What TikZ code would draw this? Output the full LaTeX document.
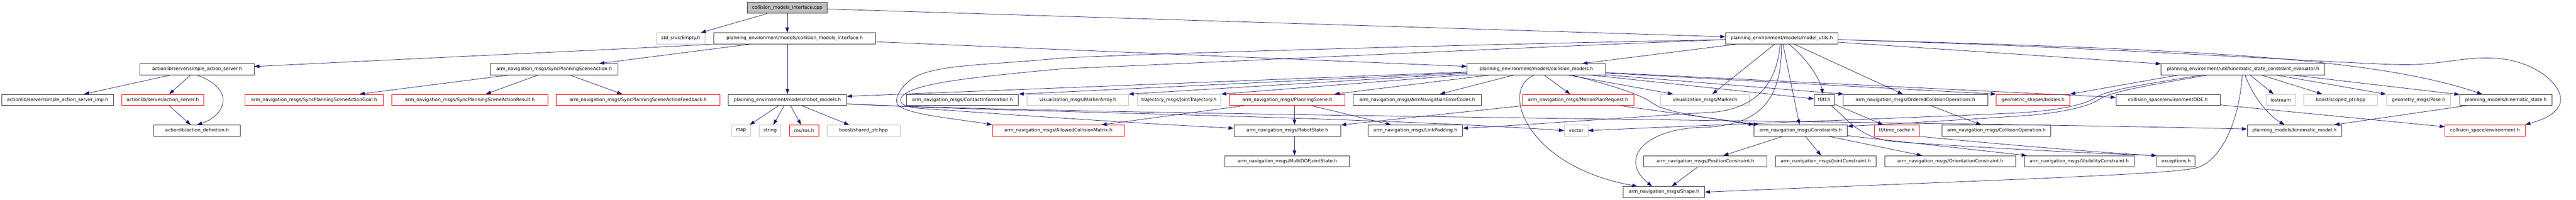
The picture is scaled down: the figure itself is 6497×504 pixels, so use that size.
\documentclass[tikz,border=0pt]{standalone}
\usepackage{fontspec}
\setmainfont{DejaVu Sans}
\usetikzlibrary{arrows.meta}
\definecolor{edgecol}{RGB}{25,25,112}
\definecolor{grayb}{RGB}{191,191,191}
\begin{document}
\begin{tikzpicture}[x=1pt,y=-1pt,
  nb/.style={line width=1.2pt, minimum height=28pt, inner sep=0pt, font=\fontsize{11.6}{14}\selectfont, text=black},
  blk/.style={nb, draw=black!80},
  redn/.style={nb, draw=red},
  grn/.style={nb, draw=grayb},
  root/.style={nb, draw=black!80, fill=grayb},
  edg/.style={draw=edgecol, line width=1pt, -{Triangle[length=13pt,width=9pt]}}]
\useasboundingbox (0,0) rectangle (6497,504);
% row 0
\node[root, minimum width=202.4pt] (cpp) at (1985.5,19.7) {collision\_models\_interface.cpp};
% row 1
\node[grn, minimum width=122pt] (empty) at (1716.7,97) {std\_srvs/Empty.h};
\node[blk, minimum width=408.6pt] (cmih) at (2004,97) {planning\_environment/models/collision\_models\_interface.h};
\node[blk, minimum width=283.7pt] (mutils) at (4493.85,97) {planning\_environment/models/model\_utils.h};
% row 2
\node[blk, minimum width=287.7pt] (sas) at (496.85,174.7) {actionlib/server/simple\_action\_server.h};
\node[blk, minimum width=321.3pt] (spsa) at (1397.35,174.7) {arm\_navigation\_msgs/SyncPlanningSceneAction.h};
\node[blk, minimum width=348.7pt] (cm) at (3874.65,174.7) {planning\_environment/models/collision\_models.h};
\node[blk, minimum width=413.3pt] (kse) at (5657.35,174.7) {planning\_environment/util/kinematic\_state\_constraint\_evaluator.h};
% row 3
\node[blk, minimum width=281.7pt] (sasimp) at (145.15,251.8) {actionlib/server/simple\_action\_server\_imp.h};
\node[redn, minimum width=205.6pt] (as) at (410.5,251.8) {actionlib/server/action\_server.h};
\node[redn, minimum width=349pt] (spsag) at (792.2,251.8) {arm\_navigation\_msgs/SyncPlanningSceneActionGoal.h};
\node[redn, minimum width=393.4pt] (spsar) at (1185,251.8) {arm\_navigation\_msgs/SyncPlanningSceneActionResult.h};
\node[redn, minimum width=413.3pt] (spsaf) at (1609.35,251.8) {arm\_navigation\_msgs/SyncPlanningSceneActionFeedback.h};
\node[blk, minimum width=298pt] (rm) at (1986,251.8) {planning\_environment/models/robot\_models.h};
\node[blk, minimum width=282.7pt] (ci) at (2427.35,251.8) {arm\_navigation\_msgs/ContactInformation.h};
\node[grn, minimum width=255pt] (ma) at (2718.2,251.8) {visualization\_msgs/MarkerArray.h};
\node[grn, minimum width=211.6pt] (jt) at (2973.5,251.8) {trajectory\_msgs/JointTrajectory.h};
\node[redn, minimum width=291.3pt] (ps) at (3246.65,251.8) {arm\_navigation\_msgs/PlanningScene.h};
\node[blk, minimum width=322.7pt] (anec) at (3574.65,251.8) {arm\_navigation\_msgs/ArmNavigationErrorCodes.h};
\node[redn, minimum width=280.3pt] (mpr) at (3980.15,251.8) {arm\_navigation\_msgs/MotionPlanRequest.h};
\node[grn, minimum width=223.6pt] (marker) at (4300.5,251.8) {visualization\_msgs/Marker.h};
\node[blk, minimum width=51pt] (tf) at (4600.8,251.8) {tf/tf.h};
\node[blk, minimum width=365.7pt] (oco) at (4830.85,251.8) {arm\_navigation\_msgs/OrderedCollisionOperations.h};
\node[redn, minimum width=185.6pt] (bodies) at (5127.5,251.8) {geometric\_shapes/bodies.h};
\node[blk, minimum width=262.3pt] (envode) at (5467.85,251.8) {collision\_space/environmentODE.h};
\node[grn, minimum width=73.7pt] (iostream) at (5752.15,251.8) {iostream};
\node[grn, minimum width=186pt] (scoped) at (5903.3,251.8) {boost/scoped\_ptr.hpp};
\node[grn, minimum width=162.3pt] (pose) at (6099.85,251.8) {geometry\_msgs/Pose.h};
\node[blk, minimum width=233pt] (kstate) at (6320.2,251.8) {planning\_models/kinematic\_state.h};
% row 4
\node[blk, minimum width=218pt] (ad) at (497,329.2) {actionlib/action\_definition.h};
\node[grn, minimum width=47pt] (map) at (1868.8,329.2) {map};
\node[grn, minimum width=55pt] (string) at (1942.2,329.2) {string};
\node[redn, minimum width=73.7pt] (ros) at (2028.15,329.2) {ros/ros.h};
\node[grn, minimum width=184.3pt] (shared) at (2177.85,329.2) {boost/shared\_ptr.hpp};
\node[redn, minimum width=333.6pt] (acm) at (2669.5,329.2) {arm\_navigation\_msgs/AllowedCollisionMatrix.h};
\node[blk, minimum width=269.7pt] (rs) at (3246.85,329.2) {arm\_navigation\_msgs/RobotState.h};
\node[blk, minimum width=238pt] (lp) at (3569.7,329.2) {arm\_navigation\_msgs/LinkPadding.h};
\node[grn, minimum width=59pt] (vector) at (3975.2,329.2) {vector};
\node[blk, minimum width=235pt] (cons) at (4541.5,329.2) {arm\_navigation\_msgs/Constraints.h};
\node[redn, minimum width=113.4pt] (tc) at (4784,329.2) {tf/time\_cache.h};
\node[blk, minimum width=275pt] (co) at (5035.2,329.2) {arm\_navigation\_msgs/CollisionOperation.h};
\node[blk, minimum width=237.7pt] (kmodel) at (5786.85,329.2) {planning\_models/kinematic\_model.h};
\node[redn, minimum width=201.6pt] (env) at (6267.5,329.2) {collision\_space/environment.h};
% row 5
\node[blk, minimum width=315pt] (mdof) at (3246.8,406.7) {arm\_navigation\_msgs/MultiDOFJointState.h};
\node[blk, minimum width=311.4pt] (pc) at (4301,406.7) {arm\_navigation\_msgs/PositionConstraint.h};
\node[blk, minimum width=254.3pt] (jc) at (4604.85,406.7) {arm\_navigation\_msgs/JointConstraint.h};
\node[blk, minimum width=331pt] (oc) at (4918.8,406.7) {arm\_navigation\_msgs/OrientationConstraint.h};
\node[blk, minimum width=276pt] (vc) at (5244,406.7) {arm\_navigation\_msgs/VisibilityConstraint.h};
\node[blk, minimum width=96.3pt] (exc) at (5488.15,406.7) {exceptions.h};
% row 6
\node[blk, minimum width=205.3pt] (shape) at (4196.65,484.2) {arm\_navigation\_msgs/Shape.h};

% ---- edges: cpp
\draw[edg] (cpp) -- (empty);
\draw[edg] (cpp.south) -- (cpp.south |- cmih.north);
\draw[edg] (cpp) -- (mutils);
% cmih
\draw[edg] (cmih.south west) .. controls (1600,122) and (1000,150) .. (sas);
\draw[edg] (cmih) -- (spsa);
\draw[edg] (cmih.south -| rm.north) -- (rm.north);
\draw[edg] (cmih) -- (cm);
% sas / as
\draw[edg] (sas) -- (sasimp);
\draw[edg] (sas) -- (as);
\draw[edg] (sas.south) .. controls (595,225) and (570,290) .. (ad.north);
\draw[edg] (as) -- (ad);
% spsa
\draw[edg] (spsa) -- (spsag);
\draw[edg] (spsa) -- (spsar);
\draw[edg] (spsa) -- (spsaf);
% rm
\draw[edg] (rm) -- (map);
\draw[edg] (rm) -- (string);
\draw[edg] (rm) -- (ros);
\draw[edg] (rm) -- (shared);
\draw[edg] ([yshift=-10pt]rm.east) .. controls (2500,282) and (3400,292) .. (vector.west);
\draw[edg] ([yshift=-10pt]rm.east) .. controls (2700,290) and (4800,305) .. ([yshift=4pt]kmodel.west);
% cm
\draw[edg] (cm) -- ([yshift=9pt]rm.east);
\draw[edg] (cm) -- (ci.north east);
\draw[edg] (cm) -- (ma.north east);
\draw[edg] (cm) -- (jt.north east);
\draw[edg] (cm) -- (ps);
\draw[edg] (cm) -- (anec);
\draw[edg] (cm) -- (mpr);
\draw[edg] (cm) -- (marker);
\draw[edg] (cm) -- (oco);
\draw[edg] (cm) -- (tf);
\draw[edg] (cm) -- (envode);
\draw[edg] (cm) -- (bodies.north west);
\draw[edg] ([xshift=-5pt]cm.south) .. controls (3780,225) and (3850,420) .. ([xshift=-67pt]shape.north);
\draw[edg] ([xshift=90pt]cm.south) .. controls (4090,222) and (4140,240) .. (4168,260) .. controls (4200,285) and (4330,300) .. (cons.north west);
% mutils
\draw[edg] (mutils) -- (cm);
\draw[edg] (mutils) -- (marker);
\draw[edg] (mutils) -- (cons);
\draw[edg] (mutils) .. controls (4560,150) and (4590,200) .. (tf);
\draw[edg] (mutils) -- (oco);
\draw[edg] (mutils) -- (kse);
\draw[edg] ([yshift=-3pt]mutils.west) .. controls (3700,112) and (2900,135) .. (2683,146)
   .. controls (2480,165) and (2390,162) .. (2320,188)
   .. controls (2285,201) and (2250,245) .. (2265,265)
   .. controls (2290,290) and (2420,300) .. (acm.north west);
\draw[edg] ([yshift=-3pt]mutils.west) .. controls (3700,125) and (2900,165) .. (2683,173)
   .. controls (2450,195) and (2290,210) .. (2272,248)
   .. controls (2266,276) and (2320,272) .. (2420,280)
   .. controls (2700,300) and (2950,315) .. ([yshift=6pt]rs.west);
\draw[edg] ([xshift=-4pt]mutils.south) .. controls (4482,200) and (4440,268) .. (4330,282)
   .. controls (4050,300) and (3800,318) .. ([yshift=6pt]lp.east);
\draw[edg] ([xshift=-1pt]mutils.south) .. controls (4495,250) and (4440,315) .. (4300,321)
   .. controls (4150,322) and (4080,400) .. ([xshift=-30pt]shape.north);
\draw[edg] ([yshift=-3pt]mutils.east) .. controls (5300,118) and (5900,160) .. (6057,163)
   .. controls (6150,164) and (6200,146) .. (6273,146)
   .. controls (6400,146) and (6475,225) .. (6455,265)
   .. controls (6440,295) and (6400,305) .. (env.north east);
\draw[edg] ([yshift=-3pt]mutils.east) .. controls (5600,125) and (6000,150) .. ([xshift=-60pt]kstate.north);
% kse
\draw[edg] ([xshift=-164pt]kse.south) -- (bodies.north east);
\draw[edg] ([xshift=-104pt]kse.south) .. controls (5440,208) and (5320,224) .. (5285,246)
   .. controls (5255,266) and (5180,280) .. (5080,285)
   .. controls (4800,298) and (4300,315) .. (vector.east);
\draw[edg] ([xshift=-90pt]kse.south) .. controls (5450,210) and (5330,228) .. (5295,250)
   .. controls (5270,268) and (5200,285) .. (5100,292)
   .. controls (4900,305) and (4750,314) .. ([yshift=11pt]cons.east);
\draw[edg] ([xshift=-2pt]kse.south) .. controls (5645,330) and (5590,410) .. (5540,423)
   .. controls (5480,440) and (5000,455) .. (shape.east);
\draw[edg] (kse) .. controls (5680,240) and (5720,290) .. (kmodel);
\draw[edg] (kse) -- (iostream);
\draw[edg] (kse) -- (scoped);
\draw[edg] (kse) -- (pose);
\draw[edg] (kse) -- (kstate);
% others
\draw[edg] (kstate) -- (kmodel);
\draw[edg] (envode) -- (env);
\draw[edg] (oco) -- (co);
\draw[edg] (tf) -- (tc);
\draw[edg] (tf) .. controls (4660,300) and (4690,350) .. (4780,357)
   .. controls (4950,370) and (5300,388) .. (exc.north west);
\draw[edg] (tc.south east) .. controls (4950,355) and (5300,386) .. (exc.north west);
\draw[edg] (cons) -- (pc);
\draw[edg] (cons) -- (jc);
\draw[edg] (cons) -- (oc);
\draw[edg] (cons) -- (vc);
\draw[edg] (pc) -- (shape);
\draw[edg] ([xshift=18pt]ps.south) -- ([xshift=18pt]rs.north);
\draw[edg] ([xshift=18pt]rs.south) -- ([xshift=18pt]mdof.north);
\draw[edg] (ps) -- (lp);
\draw[edg] (ps) -- (acm);
\draw[edg] (mpr) -- (rs);
\draw[edg] (mpr) -- (cons);
\end{tikzpicture}
\end{document}
